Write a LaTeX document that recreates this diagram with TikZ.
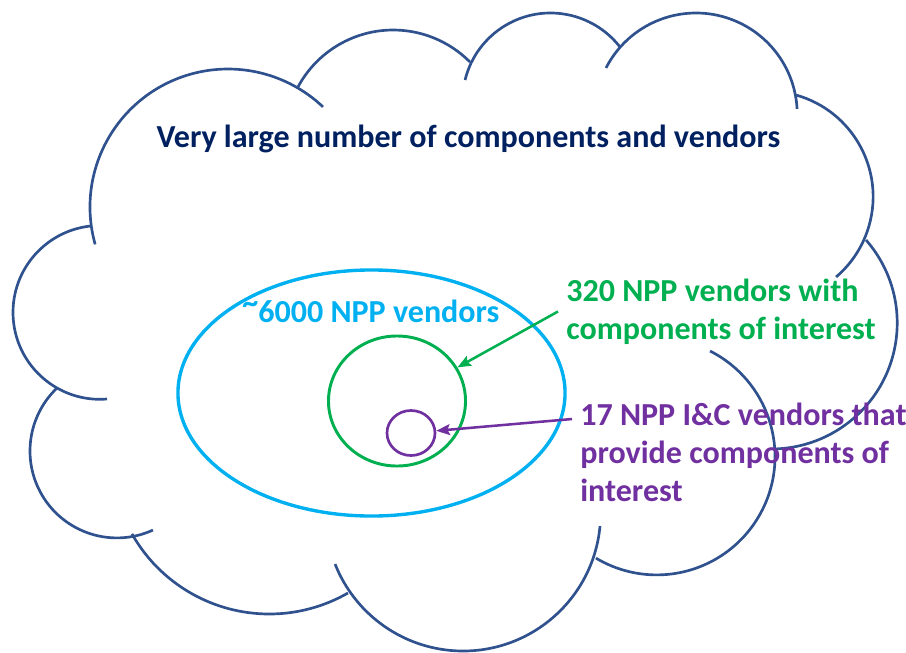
\documentclass[tikz,border=0pt]{standalone}
\usepackage{fontspec}
\setmainfont{Carlito}
\usetikzlibrary{arrows.meta,shapes.geometric}
\definecolor{CloudBlue}{RGB}{47,82,143}
\definecolor{NavyText}{RGB}{0,32,96}
\definecolor{SkyCyan}{RGB}{0,176,240}
\definecolor{LeafGreen}{RGB}{0,176,80}
\definecolor{IcPurple}{RGB}{112,48,160}

\begin{document}
\begin{tikzpicture}[x=0.025cm,y=-0.025cm,
  puff/.style={draw=CloudBlue,line width=1.9pt},
  ring/.style={ellipse,draw=#1,inner sep=0pt},
  txt/.style={font=\fontsize{22.8}{26.7}\selectfont\bfseries},
  lbl/.style={txt,align=left,inner sep=0.2cm,anchor=base west},
  pointer/.style={draw=#1,line width=1.8pt,-{Stealth[length=3.4mm,width=2.7mm,inset=0.6mm]}}
]
  \useasboundingbox (0,0) rectangle (906,652);
  \foreach \cx/\cy/\r/\a/\b in {228/207/138/-195.7/-46.5, 393.2/138.1/108.1/-151.8/-44.7,
      550.5/101/88/-166.2/-37.8, 696/114.2/101.2/-152.8/-3, 767.5/196.7/105.6/-74.3/49.5,
      771.2/323/126/-41.2/89.2, 656.7/456.6/118.3/-63.2/120.9, 463/513.4/137.6/5.3/158.4,
      269.3/456.2/157.8/60.1/150.5, 116.9/451/86.9/65.5/226.4, 99.9/312.4/86.9/85.3/263.5}
    \draw[puff] (\cx,\cy) ++(\a:\r) arc[start angle=\a,end angle=\b,radius=\r];
  \node[txt,text=NavyText,anchor=base] (title) at (468.5,147) {Very large number of components and vendors};

  \node[ring=SkyCyan,line width=2.4pt,minimum width=9.675cm,minimum height=6.15cm] (npp) at (371.5,393) {};
  \node[ring=LeafGreen,line width=2.1pt,minimum width=3.425cm,minimum height=3.25cm] (core) at (397,401) {};
  \node[ring=IcPurple,line width=1.9pt,minimum width=1.2cm,minimum height=1.125cm] (ic) at (411,433) {};

  \node[lbl,text=SkyCyan,inner sep=0pt] (nppLbl) at (242,322) {\raisebox{0.28em}{\textasciitilde}6000 NPP vendors};
  \node[lbl,text=LeafGreen] (coreLbl) at (558,339) {320 NPP vendors with\\components of interest};
  \node[lbl,text=IcPurple] (icLbl) at (572,501) {17 NPP I\&C vendors that\\provide components of\\interest};

  \draw[pointer=LeafGreen] (coreLbl.west) -- (core);
  \draw[pointer=IcPurple] ([yshift=58.3pt]icLbl.base west) -- (ic);
\end{tikzpicture}
\end{document}
